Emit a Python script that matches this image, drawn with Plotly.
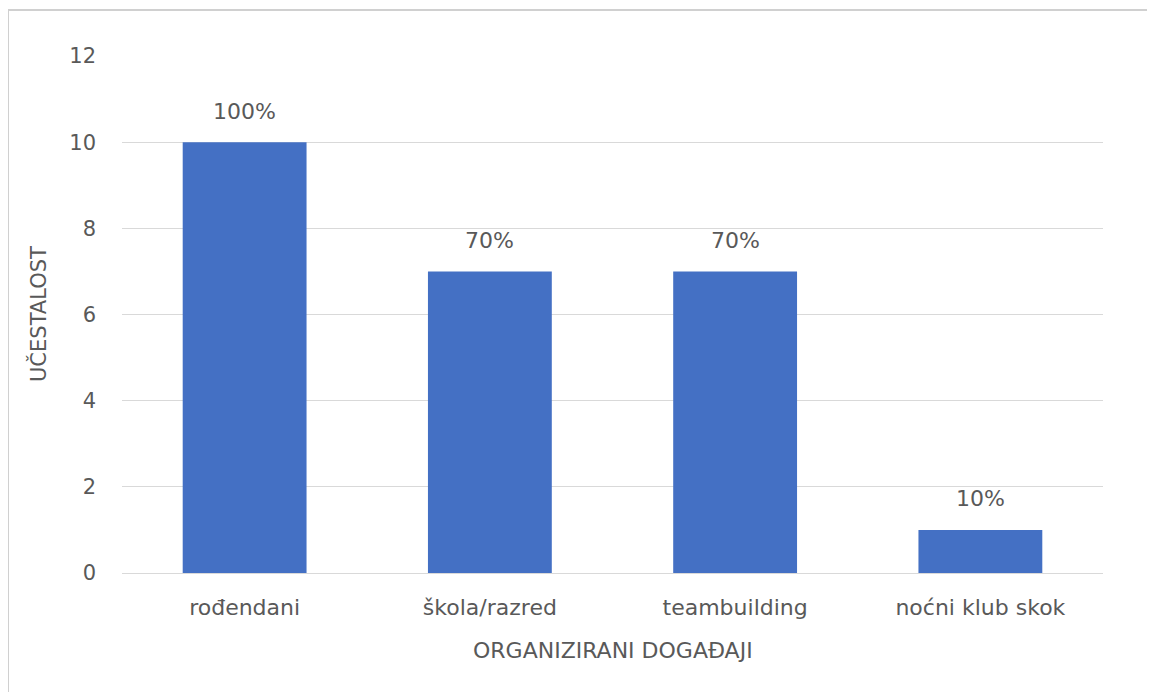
import plotly.graph_objects as go

categories = ["rođendani", "škola/razred", "teambuilding", "noćni klub skok"]
values = [10, 7, 7, 1]
labels = ["100%", "70%", "70%", "10%"]
y_ticks = [0, 2, 4, 6, 8, 10, 12]

FONT = "DejaVu Sans, Open Sans, sans-serif"
GRAY = "#595959"

# page body has an 8px margin, so the figure is laid out in 1147x684
W, H = 1147, 684
L, R, T, B = 114, 52, 48, 119
pw, ph = W - L - R, H - T - B

fig = go.Figure()
fig.add_trace(go.Bar(
    x=categories, y=values,
    marker=dict(color="#4470C4", line=dict(width=0)),
    hoverinfo="x+y",
))

annotations = [
    dict(x=c, y=v, xref="x", yref="y", text=t, showarrow=False,
         yanchor="middle", yshift=31,
         font=dict(family=FONT, size=22, color=GRAY))
    for c, v, t in zip(categories, values, labels)
]
annotations.append(dict(
    x=0.5, y=(H - B - 642) / ph, xref="paper", yref="paper",
    text="ORGANIZIRANI DOGAĐAJI", showarrow=False,
    xanchor="center", yanchor="middle",
    font=dict(family=FONT, size=22, color=GRAY)))
annotations.append(dict(
    x=(30 - L) / pw, y=(H - B - 306) / ph, xref="paper", yref="paper",
    text="UČESTALOST", showarrow=False, textangle=-90,
    xanchor="center", yanchor="middle",
    font=dict(family=FONT, size=21, color=GRAY)))

fig.update_layout(
    width=W, height=H,
    margin=dict(l=L, r=R, t=T, b=B),
    paper_bgcolor="white", plot_bgcolor="white",
    bargap=0.495,
    showlegend=False,
    font=dict(family=FONT, color=GRAY),
    xaxis=dict(
        tickfont=dict(size=22, color=GRAY),
        ticklabelstandoff=19,
        showgrid=False, showline=False, ticks="",
    ),
    yaxis=dict(
        range=[0, 12], tickvals=y_ticks,
        tickfont=dict(size=21, color=GRAY),
        ticklabelstandoff=25,
        showgrid=True, gridcolor="#D9D9D9", gridwidth=1.3,
        zeroline=True, zerolinecolor="#D9D9D9", zerolinewidth=1.3,
        showline=False, ticks="",
    ),
    annotations=annotations,
    shapes=[dict(
        type="rect", xref="paper", yref="paper",
        x0=(0 - L) / pw, x1=(W + 20 - L) / pw,
        y0=(H - B - (H + 20)) / ph, y1=(H - B - 2) / ph,
        line=dict(color="#D0D0D0", width=2), fillcolor="rgba(0,0,0,0)",
        layer="below",
    )],
)

fig.write_html("out.html")
